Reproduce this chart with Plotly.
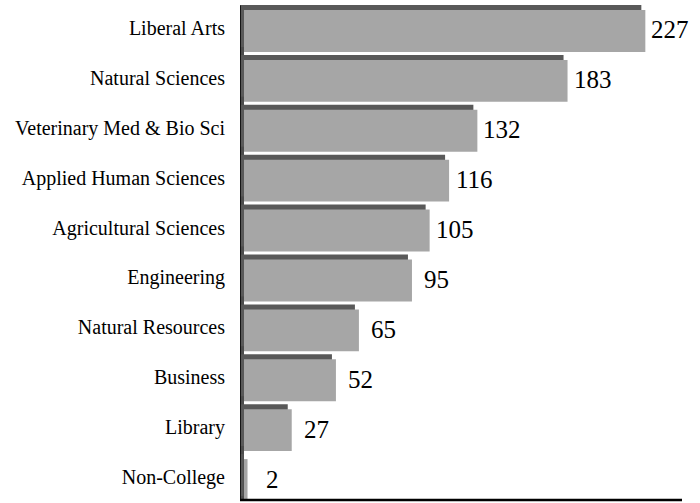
import plotly.graph_objects as go

# ---- data ----
categories = ["Liberal Arts", "Natural Sciences", "Veterinary Med & Bio Sci",
              "Applied Human Sciences", "Agricultural Sciences", "Engineering",
              "Natural Resources", "Business", "Library", "Non-College"]
counts = [227, 183, 132, 116, 105, 95, 65, 52, 27, 2]

# ---- style ----
FRONT = "#a6a6a6"
DEPTH = "#595959"
WALL = "#4d4d4d"
FONT = "Liberation Serif, Times New Roman, serif"
depth_x = 2.26      # value units (~4 px)
depth_y = 0.10      # category units (~5 px)
bar_w = 0.84
x_max = 250

fig = go.Figure()

# back (depth) bars -> dark top & left faces
fig.add_trace(go.Bar(
    y=categories, x=counts, base=[-depth_x] * len(counts), orientation="h",
    width=bar_w, offset=-bar_w / 2 - depth_y,
    marker=dict(color=DEPTH, line=dict(width=0)), hoverinfo="skip",
    showlegend=False))
# front faces
fig.add_trace(go.Bar(
    y=categories, x=counts, orientation="h",
    width=bar_w, offset=-bar_w / 2,
    marker=dict(color=FRONT, line=dict(width=0)),
    showlegend=False))

for c, v in zip(categories, counts):
    fig.add_annotation(x=v, y=c, text=str(v), showarrow=False,
                       xanchor="center", yanchor="middle", xshift=25, yshift=1,
                       font=dict(family=FONT, size=25, color="black"))

# left wall and floor line
fig.add_shape(type="rect", xref="x", yref="paper", x0=-depth_x, x1=0, y0=0, y1=0.995,
              fillcolor=WALL, line=dict(width=0), layer="below")
fig.add_shape(type="line", xref="x", yref="paper", x0=-depth_x, x1=-depth_x, y0=0, y1=0.995,
              line=dict(color="black", width=1.5))
fig.add_shape(type="line", xref="x", yref="paper", x0=-depth_x, x1=x_max - depth_x, y0=0, y1=0,
              line=dict(color="black", width=2.5))

fig.update_layout(
    width=700, height=503,
    margin=dict(l=240, r=14, t=3, b=3),
    paper_bgcolor="white", plot_bgcolor="white",
    barmode="overlay",
    xaxis=dict(range=[-depth_x, x_max], visible=False, fixedrange=True),
    yaxis=dict(categoryorder="array", categoryarray=categories,
               range=[9.4, -0.56], showgrid=False, zeroline=False, showline=False,
               ticks="", ticklabelstandoff=14, ticklabelshift=3, fixedrange=True,
               tickfont=dict(family=FONT, size=20, color="black")),
)

fig.write_html("out.html", config={"displayModeBar": False},
               post_script="document.body.style.margin='0';document.body.style.padding='0';")
